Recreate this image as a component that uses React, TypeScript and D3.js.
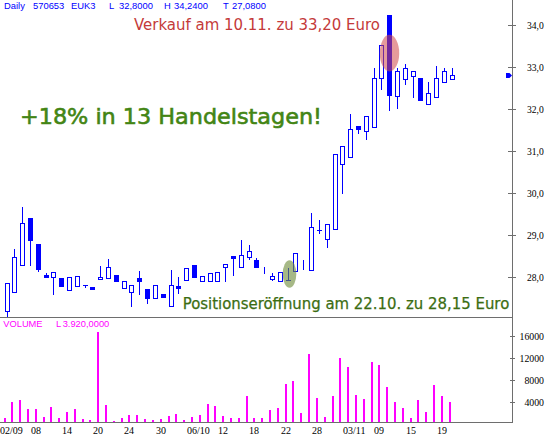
import React from "react";
import * as d3 from "d3";

// Daily OHLC for 570653 EUK3 (null open/close = only the high-low range printed)
const opens: (number | null)[] = [
  27.2, 27.65, 28.28, 29.4, 28.79, 28.05, 27.99, 27.97, 27.68, 27.78,
  27.8, 27.76, 27.95, 27.98, 28.04, 27.73, 27.65, 27.98, 27.71, 27.49,
  27.6, 27.3, 27.78, 27.93, 28.28, 27.9, 27.9, 27.9, 28.23, 28.49,
  28.25, 28.48, 28.4, null, 27.96, 27.9, 27.93, 28.14, null, 28.17,
  29.12, 28.9, 29.14, 30.68, 30.86, 31.6, 31.47, 31.58, 32.73, 34.24,
  32.32, 32.71, 32.79, 32.73, 32.12, 32.28, 32.64, 32.71,
];
const highs: number[] = [
  27.85, 28.67, 29.66, 29.4, 28.79, 28.1, 28.11, 27.97, 27.99, 28.02,
  27.8, 27.76, 28.26, 28.43, 28.04, 27.9, 27.8, 28.14, 27.71, 27.8,
  27.6, 28.17, 28.01, 28.21, 28.28, 28.02, 28.1, 28.11, 28.3, 28.49,
  28.88, 28.76, 28.45, 28.23, 28.09, 28.12, 28.21, 28.56, 28.4, 29.52,
  29.36, 29.26, 30.93, 31.12, 31.88, 31.6, 31.83, 32.97, 33.52, 34.24,
  32.97, 33.07, 32.9, 32.73, 32.65, 33.02, 32.97, 32.97,
];
const lows: number[] = [
  27.08, 27.65, 28.28, 28.29, 28.15, 28.01, 27.6, 27.79, 27.68, 27.78,
  27.77, 27.72, 27.95, 27.98, 27.91, 27.73, 27.31, 27.6, 27.39, 27.49,
  27.52, 27.3, 27.61, 27.93, 28.01, 27.9, 27.9, 27.9, 27.91, 28.05,
  28.25, 28.42, 28.25, 28.1, 27.93, 27.9, 27.93, 28.14, 28.2, 28.17,
  29.04, 28.72, 29.14, 30.01, 30.86, 31.42, 31.29, 31.58, 32.47, 31.98,
  32.02, 32.6, 32.29, 32.21, 32.12, 32.28, 32.64, 32.71,
];
const closes: (number | null)[] = [
  27.85, 28.47, 29.28, 28.88, 28.19, 28.01, 28.11, 27.79, 27.99, 28.02,
  27.8, 27.72, 28.01, 28.25, 27.91, 27.9, 27.8, 27.91, 27.51, 27.8,
  27.52, 27.8, 27.74, 28.21, 28.01, 28.02, 28.1, 28.11, 28.3, 28.46,
  28.52, 28.62, 28.25, null, 28.02, 28.12, 27.93, 28.56, null, 29.2,
  29.12, 29.26, 30.93, 31.12, 31.52, 31.52, 31.83, 32.75, 33.52, 32.33,
  32.9, 32.97, 32.9, 32.21, 32.39, 32.75, 32.9, 32.8,
];
const volumes: number[] = [
  1020, 3944, 4364, 2720, 2720, 1205, 3030, 1077, 2118, 2720,
  895, 712, 16726, 3396, 475, 1020, 1570, 1570, 895, 712,
  895, 1388, 1753, 712, 1205, 1570, 3579, 3214, 1388, 1020,
  1020, 5040, 1020, 1020, 2483, 2849, 7231, 7779, 1936, 12709,
  4675, 1205, 5040, 11979, 10335, 5222, 4492, 11248, 10700, 6683,
  3944, 2849, 1020, 4309, 2118, 7048, 5040, 3920,
];

const dateLabels = ["02/09", "08", "14", "20", "24", "30", "06/10", "12", "18", "22", "28", "03/11", "09", "15", "19"];
const dateLabelIndex = [0, 4, 8, 12, 16, 20, 24, 28, 32, 36, 40, 44, 48, 52, 56];
const priceTicks = [28, 29, 30, 31, 32, 33, 34];
const volumeTicks = [4000, 8000, 12000, 16000];

// Trade annotations: buy on 22.10., sell on 10.11.
const entryIndex = 36;
const entryHighlightPrice = 28.07;
const exitIndex = 49;
const exitHighlightPrice = 33.33;

const BLUE = "#0000ff";
const MAGENTA = "#ff00ff";
const AXIS = "#6e6e6e";
const NOTE_FONT = "'DejaVu Sans', Verdana, sans-serif";

export default function App() {
  const W = 548;
  const H = 440;
  const axisX = 512.5;

  const x = d3.scaleLinear().domain([0, volumes.length - 1]).range([7, 452.2]);
  const cx = (i: number) => Math.floor(x(i)) + 0.5;
  const y = d3.scaleLinear().domain([28, 34]).range([277, 25]);
  const yv = d3.scaleLinear().domain([0, 16000]).range([423.6, 336]);
  const fmtPrice = (v: number) => d3.format(".1f")(v).replace(".", ",");
  const fmtVolume = (v: number) =>
    d3.format(",.4f")(v).replace(/,/g, "#").replace(".", ",").replace(/#/g, ".");

  const lastClose = closes[closes.length - 1] as number;
  const markY = Math.round(y(lastClose)) + 0.5;

  return (
    <svg
      width={W}
      height={H}
      style={{ position: "absolute", left: 0, top: 0, background: "#fff" }}
      fontFamily="'Liberation Sans', Arial, sans-serif"
    >
      <rect x={0} y={0} width={W} height={H} fill="#fff" />

      {/* header */}
      <g fill={BLUE} fontSize={9.4}>
        <text x={4} y={8.5}>Daily</text>
        <text x={33} y={8.5}>570653</text>
        <text x={71} y={8.5}>EUK3</text>
        <text x={109} y={8.5}>L</text>
        <text x={119} y={8.5}>32,8000</text>
        <text x={164} y={8.5}>H</text>
        <text x={174} y={8.5}>34,2400</text>
        <text x={223} y={8.5}>T</text>
        <text x={232} y={8.5}>27,0800</text>
      </g>

      {/* frame */}
      <g stroke={AXIS} strokeWidth={1} shapeRendering="crispEdges">
        <line x1={axisX} x2={axisX} y1={0} y2={422.5} />
        <line x1={0} x2={axisX} y1={317.5} y2={317.5} />
        <line x1={0} x2={axisX} y1={422.5} y2={422.5} />
      </g>

      {/* price axis */}
      {priceTicks.map((t) => {
        const ty = Math.round(y(t)) + 0.5;
        return (
          <g key={"p" + t}>
            <line x1={508} x2={516} y1={ty} y2={ty} stroke={AXIS} shapeRendering="crispEdges" />
            <text x={527} y={ty + 3.3} fontSize={9.6} fontFamily="'Liberation Serif', 'Times New Roman', serif" fill="#000">
              {fmtPrice(t)}
            </text>
          </g>
        );
      })}

      {/* volume axis */}
      {volumeTicks.map((t) => {
        const ty = Math.round(yv(t)) + 0.5;
        return (
          <g key={"v" + t}>
            <line x1={510} x2={515} y1={ty} y2={ty} stroke={AXIS} shapeRendering="crispEdges" />
            <text x={544} y={ty + 3.3} fontSize={9.8} textAnchor="end" fontFamily="'Liberation Serif', 'Times New Roman', serif" fill="#000">
              {t}
            </text>
          </g>
        );
      })}

      {/* date labels */}
      {dateLabelIndex.map((idx, k) => (
        <text
          key={"d" + k}
          x={Math.max(0, cx(idx) - 7.5)}
          y={434}
          fontSize={10}
          fontFamily="'Liberation Serif', 'Times New Roman', serif"
          fill="#000"
        >
          {dateLabels[k]}
        </text>
      ))}

      {/* candles */}
      <g shapeRendering="crispEdges">
        {highs.map((h, i) => {
          const c = cx(i);
          const o = opens[i];
          const cl = closes[i];
          const wick = (
            <line x1={c} x2={c} y1={Math.round(y(h))} y2={Math.round(y(lows[i])) + 1} stroke={BLUE} />
          );
          if (o == null || cl == null) return <g key={i}>{wick}</g>;
          const top = Math.round(y(Math.max(o, cl)));
          const bot = Math.round(y(Math.min(o, cl)));
          const up = cl > o;
          if (bot - top < 1) {
            return (
              <g key={i}>
                {wick}
                <line x1={c - 2.5} x2={c + 2.5} y1={top + 0.5} y2={top + 0.5} stroke={BLUE} />
              </g>
            );
          }
          return (
            <g key={i}>
              {wick}
              <rect
                x={c - 2}
                y={top + 0.5}
                width={4}
                height={bot - top}
                fill={up ? "#fff" : BLUE}
                stroke={BLUE}
              />
            </g>
          );
        })}
      </g>

      {/* last close marker */}
      <polygon
        points={`506,${markY - 2.5} 509.5,${markY - 2.5} 512,${markY} 509.5,${markY + 2.5} 506,${markY + 2.5}`}
        fill={BLUE}
      />

      {/* highlights */}
      <ellipse cx={cx(entryIndex) + 1} cy={y(entryHighlightPrice)} rx={6.8} ry={13.7} fill="#6f8c3c" opacity={0.62} />
      <ellipse cx={cx(exitIndex)} cy={y(exitHighlightPrice)} rx={9.7} ry={18.3} fill="#d04848" opacity={0.55} />

      {/* volume */}
      <g fill={MAGENTA} fontSize={9.3}>
        <text x={3.3} y={326.5}>VOLUME</text>
        <text x={56} y={326.5}>L</text>
        <text x={62.7} y={326.5}>{fmtVolume(volumes[volumes.length - 1])}</text>
      </g>
      <g shapeRendering="crispEdges">
        {volumes.map((v, i) => {
          const top = Math.round(yv(v));
          return (
            <rect key={"vb" + i} x={Math.floor(x(i)) - 3} y={top} width={2} height={422 - top} fill={MAGENTA} />
          );
        })}
      </g>

      {/* annotations */}
      <g fontFamily={NOTE_FONT}>
        <text x={134} y={29.5} fontSize={15} fill="#c43a3a" textLength={246} lengthAdjust="spacingAndGlyphs">
          Verkauf am 10.11. zu 33,20 Euro
        </text>
        <text
          x={20}
          y={124.3}
          fontSize={21.8}
          fill="#438514"
          stroke="#438514"
          strokeWidth={0.6}
          textLength={302}
          lengthAdjust="spacingAndGlyphs"
        >
          +18% in 13 Handelstagen!
        </text>
        <text
          x={182.7}
          y={309.3}
          fontSize={15.8}
          fill="#3b6d12"
          stroke="#3b6d12"
          strokeWidth={0.25}
          textLength={326.6}
          lengthAdjust="spacingAndGlyphs"
        >
          Positionseröffnung am 22.10. zu 28,15 Euro
        </text>
      </g>
    </svg>
  );
}
